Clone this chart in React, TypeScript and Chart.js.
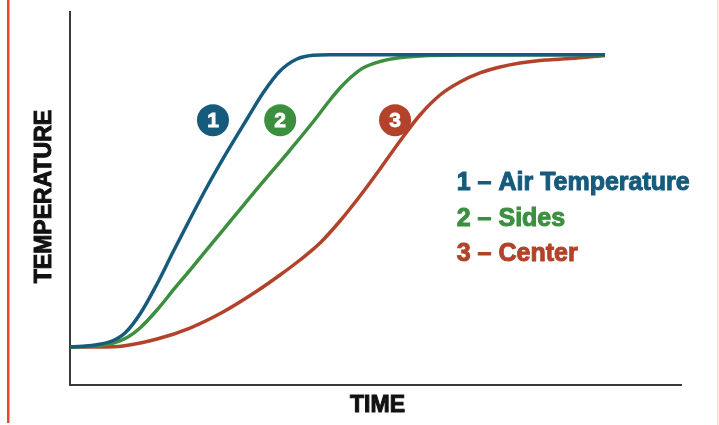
import React, { useEffect, useRef } from "react";
import { Chart, registerables } from "chart.js";

Chart.register(...registerables);

// ---- data (time units 0..100, temperature units 0..100) ----
const seriesNames = ["1 – Air Temperature", "2 – Sides", "3 – Center"];
const badgeLabels = ["1", "2", "3"];
const xAxisTitle = "TIME";
const yAxisTitle = "TEMPERATURE";

const airTime = [0, 4.09, 6.87, 9.0, 11.46, 14.24, 16.86, 19.64, 22.42, 25.7, 28.97, 31.59, 34.37, 37.15, 39.77, 42.55, 87.56];
const airTemp = [10.19, 10.72, 11.8, 13.94, 19.03, 27.08, 35.66, 44.5, 53.08, 62.47, 71.31, 78.28, 84.18, 87.4, 88.4, 88.55, 88.55];

const sidesTime = [0, 4.91, 7.36, 9.49, 11.46, 14.24, 17.18, 19.64, 25.04, 30.61, 36.01, 39.77, 42.55, 44.19, 45.83, 47.95, 50.74, 53.52, 57.28, 63.83, 87.56];
const sidesTemp = [10.19, 10.59, 11.39, 12.87, 15.28, 20.11, 26.01, 30.83, 41.55, 52.55, 63.0, 70.51, 76.41, 79.62, 82.31, 84.99, 86.73, 87.67, 88.2, 88.45, 88.55];

const centerTime = [0, 4.91, 8.67, 14.24, 19.64, 25.04, 30.61, 34.37, 37.64, 40.92, 44.19, 47.46, 50.74, 54.01, 57.28, 60.56, 63.83, 67.1, 70.38, 73.65, 77.74, 81.83, 87.56];
const centerTemp = [10.19, 10.19, 10.46, 12.33, 15.28, 19.57, 25.2, 29.49, 33.51, 38.07, 43.97, 50.67, 57.91, 65.42, 72.39, 77.75, 81.23, 83.65, 85.25, 86.33, 87.13, 87.53, 88.35];

// ---- annotation anchors (in data units) ----
const badgeTimes = [23.4, 34.4, 53.2];
const badgeTemp = 71.0;
const legendTime = 63.3;
const legendTemps = [54.4, 44.8, 35.4];

const colors = ["#165a7c", "#3d8f40", "#b2432a"];

const toPoints = (xs: number[], ys: number[]) => xs.map((x, i) => ({ x, y: ys[i] }));

export default function App() {
  const ref = useRef<HTMLCanvasElement | null>(null);

  useEffect(() => {
    if (!ref.current) return;
    const font = "'Liberation Sans', Arial, sans-serif";

    const decor = {
      id: "decor",
      beforeDraw(chart: any) {
        const ctx = chart.ctx;
        ctx.save();
        ctx.fillStyle = "#ffffff";
        ctx.fillRect(0, 0, chart.width, chart.height);
        ctx.fillStyle = "#e9472c";
        ctx.fillRect(7, 0, 2.5, 423);
        ctx.fillStyle = "#fbe4e0";
        ctx.fillRect(717, 0, 2, 425);
        ctx.restore();
      },
      afterDraw(chart: any) {
        const ctx = chart.ctx;
        const xs = chart.scales.x;
        const ys = chart.scales.y;
        const area = chart.chartArea;
        ctx.save();
        // badges
        badgeLabels.forEach((lab, i) => {
          const cx = xs.getPixelForValue(badgeTimes[i]);
          const cy = ys.getPixelForValue(badgeTemp);
          ctx.beginPath();
          ctx.arc(cx, cy, 16, 0, Math.PI * 2);
          ctx.fillStyle = colors[i];
          ctx.fill();
          ctx.fillStyle = "#ffffff";
          ctx.strokeStyle = "#ffffff";
          ctx.lineWidth = 0.8;
          ctx.font = `bold 21px ${font}`;
          ctx.textAlign = "center";
          ctx.textBaseline = "middle";
          ctx.fillText(lab, cx, cy + 1);
          ctx.strokeText(lab, cx, cy + 1);
        });
        // legend text
        seriesNames.forEach((name, i) => {
          const lx = xs.getPixelForValue(legendTime);
          const ly = ys.getPixelForValue(legendTemps[i]);
          ctx.fillStyle = colors[i];
          ctx.strokeStyle = colors[i];
          ctx.lineWidth = 1;
          ctx.font = `bold 25px ${font}`;
          ctx.textAlign = "left";
          ctx.textBaseline = "middle";
          ctx.fillText(name, lx, ly + 1);
          ctx.strokeText(name, lx, ly + 1);
        });
        // axis titles
        ctx.fillStyle = "#111111";
        ctx.strokeStyle = "#111111";
        ctx.lineWidth = 1;
        ctx.font = `bold 23px ${font}`;
        ctx.textAlign = "center";
        ctx.textBaseline = "middle";
        const tx = (area.left + area.right) / 2 + 2;
        ctx.fillText(xAxisTitle, tx, area.bottom + 21);
        ctx.strokeText(xAxisTitle, tx, area.bottom + 21);
        ctx.translate(area.left - 25, (area.top + area.bottom) / 2 - 2);
        ctx.rotate(-Math.PI / 2);
        ctx.fillText(yAxisTitle, 0, 0);
        ctx.strokeText(yAxisTitle, 0, 0);
        ctx.restore();
      },
    };

    const chart = new Chart(ref.current, {
      type: "line",
      data: {
        datasets: [
          { label: seriesNames[0], data: toPoints(airTime, airTemp), borderColor: colors[0] },
          { label: seriesNames[1], data: toPoints(sidesTime, sidesTemp), borderColor: colors[1] },
          { label: seriesNames[2], data: toPoints(centerTime, centerTemp), borderColor: colors[2] },
        ].map((d) => ({
          ...d,
          borderWidth: 3.5,
          pointRadius: 0,
          fill: false,
          cubicInterpolationMode: "monotone" as const,
        })),
      },
      options: {
        responsive: false,
        animation: false,
        layout: { padding: { left: 70, right: 38, top: 12, bottom: 40 } },
        plugins: { legend: { display: false }, tooltip: { enabled: false } },
        scales: {
          x: {
            type: "linear",
            min: 0,
            max: 100,
            grid: { display: false, drawTicks: false, tickLength: 0 },
            ticks: { display: false, padding: 0 },
            border: { display: true, color: "#3a3a3a", width: 2 },
          },
          y: {
            type: "linear",
            min: 0,
            max: 100,
            grid: { display: false, drawTicks: false, tickLength: 0 },
            ticks: { display: false, padding: 0 },
            border: { display: true, color: "#3a3a3a", width: 2 },
          },
        },
      },
      plugins: [decor],
    });
    return () => chart.destroy();
  }, []);

  return (
    <div style={{ position: "fixed", left: 0, top: 0, width: 719, height: 425, background: "#fff" }}>
      <canvas ref={ref} width={719} height={425} style={{ display: "block", width: 719, height: 425 }} />
    </div>
  );
}
